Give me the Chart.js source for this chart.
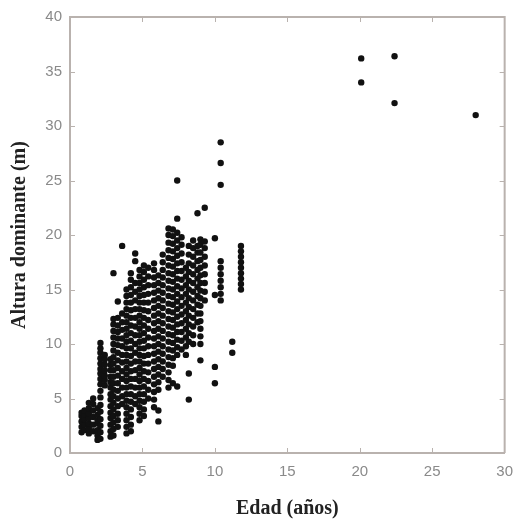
<!DOCTYPE html>
<html>
<head>
<meta charset="utf-8">
<script src="https://cdn.jsdelivr.net/npm/chart.js@4.4.1/dist/chart.umd.min.js"></script>
<style>
  html, body { margin: 0; padding: 0; background: #fff; }
  #wrap { width: 523px; height: 519px; }
</style>
</head>
<body>
<div id="wrap"><canvas id="chart" width="523" height="519"></canvas></div>
<script>
// Edad (años) of each column of measurements
const columnAges = [0.8, 1.0, 1.3, 1.6, 1.9, 2.1, 2.4, 2.8, 3.0, 3.3, 3.6, 3.9, 4.2, 4.5, 4.8,
  5.1, 5.4, 5.8, 6.1, 6.4, 6.8, 7.1, 7.4, 7.7, 8.0, 8.2, 8.5, 8.8, 9.0, 9.3, 10.0, 10.4,
  11.2, 11.8, 20.1, 22.4, 28.0];

// Altura dominante (m) of the points in each column (same order as columnAges)
const columnHeights = [
  [1.9, 2.4, 2.9, 3.4, 3.7],
  [2.1, 2.6, 3.1, 3.5, 3.9],
  [1.8, 2.3, 2.7, 3.2, 3.6, 4.1, 4.6],
  [2.0, 2.6, 3.3, 3.9, 4.5, 5.0],
  [1.2, 1.6, 2.1, 2.7, 3.0, 3.5, 4.1],
  [1.3, 1.9, 2.5, 3.1, 3.8, 4.4, 5.1, 5.7, 6.3, 6.8, 7.3, 7.7, 8.2, 8.7, 9.2, 9.6, 10.1],
  [6.2, 6.7, 7.1, 7.6, 8.1, 8.6, 9.0],
  [1.5, 2.0, 2.6, 3.2, 3.7, 4.3, 4.9, 5.4, 6.0, 6.5, 7.0, 7.6, 8.1, 8.6],
  [1.6, 2.2, 2.8, 3.4, 4.0, 4.6, 5.2, 5.8, 6.4, 7.0, 7.6, 8.2, 8.8, 9.4, 10.0, 10.6, 11.2, 11.8, 12.3, 16.5],
  [2.4, 3.0, 3.6, 4.3, 5.0, 5.7, 6.4, 7.1, 7.8, 8.5, 9.2, 9.9, 10.5, 11.1, 11.7, 12.4, 13.9],
  [4.5, 5.2, 6.0, 6.8, 7.5, 8.3, 9.0, 9.8, 10.5, 11.3, 12.0, 12.8, 19.0],
  [1.8, 2.4, 3.0, 3.6, 4.2, 4.8, 5.4, 6.0, 6.6, 7.2, 7.8, 8.4, 9.0, 9.6, 10.2, 10.8, 11.4, 12.0, 12.6, 13.2, 13.8, 14.4, 15.0],
  [2.0, 2.6, 3.3, 4.0, 4.7, 5.4, 6.1, 6.8, 7.5, 8.2, 8.9, 9.6, 10.3, 11.0, 11.7, 12.4, 13.1, 13.8, 14.5, 15.2, 15.9, 16.5],
  [4.5, 5.2, 6.0, 6.8, 7.6, 8.4, 9.2, 10.0, 10.8, 11.6, 12.4, 13.2, 14.0, 14.8, 15.6, 17.6, 18.3],
  [3.0, 3.6, 4.2, 4.8, 5.4, 6.0, 6.6, 7.2, 7.8, 8.4, 9.0, 9.6, 10.2, 10.8, 11.4, 12.0, 12.6, 13.2, 13.8, 14.4, 15.0, 15.6, 16.2, 16.8],
  [3.4, 4.0, 4.7, 5.4, 6.1, 6.8, 7.5, 8.2, 8.9, 9.6, 10.3, 11.0, 11.7, 12.4, 13.1, 13.8, 14.5, 15.2, 15.9, 16.6, 17.2],
  [5.0, 5.8, 6.6, 7.4, 8.2, 9.0, 9.8, 10.6, 11.4, 12.2, 13.0, 13.8, 14.6, 15.4, 16.2, 17.0],
  [4.2, 4.9, 5.6, 6.3, 7.0, 7.7, 8.4, 9.1, 9.8, 10.5, 11.2, 11.9, 12.6, 13.3, 14.0, 14.7, 15.4, 16.1, 16.8, 17.4],
  [2.9, 3.9, 5.8, 6.5, 7.2, 7.9, 8.6, 9.3, 10.0, 10.7, 11.4, 12.1, 12.8, 13.5, 14.2, 14.9, 15.6, 16.3],
  [7.0, 7.7, 8.4, 9.1, 9.8, 10.5, 11.2, 11.9, 12.6, 13.3, 14.0, 14.7, 15.4, 16.1, 16.8, 17.5, 18.2],
  [6.0, 6.7, 7.4, 8.1, 8.8, 9.5, 10.2, 10.9, 11.6, 12.3, 13.0, 13.7, 14.4, 15.1, 15.8, 16.5, 17.2, 17.9, 18.6, 19.3, 20.0, 20.6],
  [6.4, 8.0, 8.7, 9.4, 10.1, 10.8, 11.5, 12.2, 12.9, 13.6, 14.3, 15.0, 15.7, 16.4, 17.1, 17.8, 18.5, 19.2, 19.9, 20.5],
  [6.1, 9.0, 9.7, 10.4, 11.1, 11.8, 12.5, 13.2, 13.9, 14.6, 15.3, 16.0, 16.7, 17.4, 18.1, 18.8, 19.5, 20.2, 21.5, 25.0],
  [9.5, 10.3, 11.1, 11.9, 12.7, 13.5, 14.3, 15.1, 15.9, 16.7, 17.5, 18.3, 19.1, 19.8],
  [9.0, 9.8, 10.6, 11.4, 12.2, 13.0, 13.8, 14.6, 15.4, 16.2, 17.0],
  [4.9, 7.3, 10.2, 11.0, 11.8, 12.6, 13.4, 14.2, 15.0, 15.8, 16.6, 17.4, 18.2, 19.0],
  [10.0, 10.8, 11.6, 12.4, 13.2, 14.0, 14.8, 15.6, 16.4, 17.2, 18.0, 18.8, 19.5],
  [12.0, 12.8, 13.6, 14.4, 15.2, 16.0, 16.8, 17.6, 18.4, 19.0, 22.0],
  [8.5, 10.0, 10.7, 11.4, 12.1, 12.8, 13.5, 14.2, 14.9, 15.6, 16.3, 17.0, 17.7, 18.4, 19.1, 19.6],
  [14.0, 14.8, 15.6, 16.4, 17.2, 18.0, 18.8, 19.4, 22.5],
  [6.4, 7.9, 14.5, 19.7],
  [14.0, 14.6, 15.2, 15.8, 16.4, 17.0, 17.6, 24.6, 26.6, 28.5],
  [9.2, 10.2],
  [15.0, 15.5, 16.0, 16.5, 17.0, 17.5, 18.0, 18.5, 19.0],
  [34.0, 36.2],
  [32.1, 36.4],
  [31.0]
];

const xTicks = [0, 5, 10, 15, 20, 25, 30];
const yTicks = [0, 5, 10, 15, 20, 25, 30, 35, 40];

const frameColor = '#b9b2ae';
const labelColor = '#8a8a8a';
const titleColor = '#222';

// flatten columns into points
const points = [];
columnAges.forEach((age, i) => {
  columnHeights[i].forEach(h => points.push({ x: age, y: h }));
});

// draws top/right frame and inward tick marks on all four sides
const framePlugin = {
  id: 'frame',
  afterDraw(chart) {
    const { ctx, chartArea: a, scales } = chart;
    ctx.save();
    ctx.strokeStyle = frameColor;
    ctx.lineWidth = 2;
    ctx.beginPath();
    ctx.moveTo(a.left, a.top);
    ctx.lineTo(a.right, a.top);
    ctx.lineTo(a.right, a.bottom);
    ctx.stroke();
    ctx.lineWidth = 1;
    ctx.beginPath();
    xTicks.slice(1, -1).forEach(v => {
      const px = Math.round(scales.x.getPixelForValue(v)) + 0.5;
      ctx.moveTo(px, a.bottom); ctx.lineTo(px, a.bottom - 5);
      ctx.moveTo(px, a.top); ctx.lineTo(px, a.top + 5);
    });
    yTicks.slice(1, -1).forEach(v => {
      const py = Math.round(scales.y.getPixelForValue(v)) + 0.5;
      ctx.moveTo(a.left, py); ctx.lineTo(a.left + 5, py);
      ctx.moveTo(a.right, py); ctx.lineTo(a.right - 5, py);
    });
    ctx.stroke();
    ctx.restore();
  }
};

new Chart(document.getElementById('chart').getContext('2d'), {
  type: 'scatter',
  data: {
    datasets: [{
      data: points,
      backgroundColor: '#111',
      borderWidth: 0,
      pointRadius: 3.2
    }]
  },
  options: {
    responsive: false,
    animation: false,
    layout: { padding: { top: 17, right: 15, left: 0, bottom: 0 } },
    plugins: { legend: { display: false }, tooltip: { enabled: false } },
    scales: {
      x: {
        type: 'linear',
        min: 0, max: 30,
        afterBuildTicks: s => { s.ticks = xTicks.map(v => ({ value: v })); },
        afterFit: s => { s.height = 66; },
        grid: { drawOnChartArea: false, drawTicks: false },
        border: { display: true, color: frameColor, width: 2 },
        ticks: { color: labelColor, padding: 10, font: { family: 'Liberation Sans', size: 15 } },
        title: {
          display: true, text: 'Edad (años)', color: titleColor,
          padding: { top: 0, bottom: 0 },
          font: { family: 'Liberation Serif', size: 20, weight: 'bold', lineHeight: 1.0 }
        }
      },
      y: {
        type: 'linear',
        min: 0, max: 40,
        afterBuildTicks: s => { s.ticks = yTicks.map(v => ({ value: v })); },
        afterFit: s => { s.width = 70; },
        grid: { drawOnChartArea: false, drawTicks: false },
        border: { display: true, color: frameColor, width: 2 },
        ticks: { color: labelColor, padding: 8, font: { family: 'Liberation Sans', size: 15 } },
        title: {
          display: true, text: 'Altura dominante (m)', color: titleColor,
          padding: { top: 8, bottom: 0 },
          font: { family: 'Liberation Serif', size: 20, weight: 'bold' }
        }
      }
    }
  },
  plugins: [framePlugin]
});
</script>
</body>
</html>
